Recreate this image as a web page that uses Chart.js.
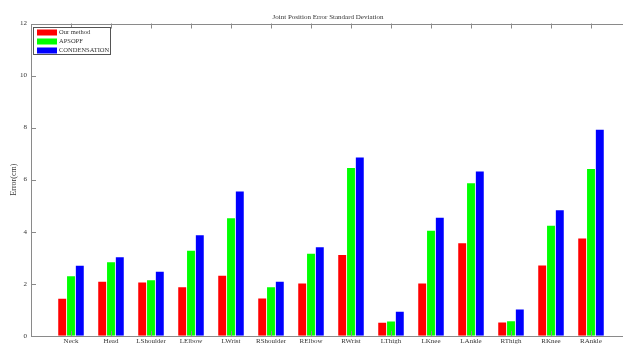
<!DOCTYPE html>
<html>
<head>
<meta charset="utf-8">
<script src="https://cdn.jsdelivr.net/npm/chart.js@4"></script>
<style>
  html, body { margin: 0; padding: 0; background: #fff; overflow: hidden; }
  #wrap { width: 632px; height: 344px; }
</style>
</head>
<body>
<div id="wrap"><canvas id="myChart" width="632" height="344"></canvas></div>
<script>
// Joint names along the x axis
var joints = ["Neck", "Head", "LShoulder", "LElbow", "LWrist", "RShoulder", "RElbow",
              "RWrist", "LThigh", "LKnee", "LAnkle", "RThigh", "RKnee", "RAnkle"];
var ourMethod    = [1.42, 2.08, 2.05, 1.87, 2.31, 1.43, 2.01, 3.10, 0.50, 2.01, 3.56, 0.51, 2.70, 3.74];
var apsopf       = [2.29, 2.83, 2.13, 3.27, 4.52, 1.87, 3.15, 6.45, 0.55, 4.04, 5.86, 0.56, 4.23, 6.41];
var condensation = [2.69, 3.02, 2.46, 3.86, 5.54, 2.08, 3.40, 6.85, 0.92, 4.54, 6.31, 1.01, 4.82, 7.92];
var yTicks = [0, 2, 4, 6, 8, 10, 12];
var chartTitle = 'Joint Position Error Standard Deviation';

var axisColor = '#8a8a8a';
var textColor = '#333333';
var serif = "'Liberation Serif', 'DejaVu Serif', serif";

// empty slot at each end so the joints sit at 1..14 of a 0..15 axis
function pad(arr, fill) { return [fill].concat(arr, [fill]); }

// draws the title, the box, the inward ticks and the boxed legend
var frame = {
    id: 'frame',
    afterDraw: function (chart) {
        var ctx = chart.ctx, a = chart.chartArea;
        var x = chart.scales.x, y = chart.scales.y;
        ctx.save();

        ctx.fillStyle = textColor;
        ctx.font = "7px " + serif;
        ctx.textAlign = 'center';
        ctx.textBaseline = 'middle';
        ctx.fillText(chartTitle, (a.left + a.right) / 2 - 3, a.top - 6.5);

        ctx.strokeStyle = axisColor;
        ctx.lineWidth = 1;
        ctx.strokeRect(Math.round(a.left) + 0.5, Math.round(a.top) + 0.5,
                       a.right - a.left, Math.round(a.bottom - a.top));
        ctx.beginPath();
        x.ticks.forEach(function (t, i) {
            if (!t.label) return;
            var px = Math.round(x.getPixelForTick(i)) + 0.5;
            ctx.moveTo(px, a.top); ctx.lineTo(px, a.top + 5);
            ctx.moveTo(px, a.bottom); ctx.lineTo(px, a.bottom - 5);
        });
        y.ticks.forEach(function (t, i) {
            var py = Math.round(y.getPixelForTick(i)) + 0.5;
            ctx.moveTo(a.left, py); ctx.lineTo(a.left + 5, py);
        });
        ctx.stroke();

        // legend
        var lx = Math.round(a.left) + 2, ly = Math.round(a.top) + 3;
        ctx.fillStyle = '#fff';
        ctx.fillRect(lx, ly, 77, 27);
        ctx.strokeStyle = '#555';
        ctx.strokeRect(lx + 0.5, ly + 0.5, 77, 27);
        ctx.font = "6.5px " + serif;
        ctx.textAlign = 'left';
        chart.data.datasets.forEach(function (ds, i) {
            var cy = ly + 5.5 + i * 9;
            ctx.fillStyle = ds.backgroundColor;
            ctx.fillRect(lx + 4, cy - 3, 20, 6);
            ctx.fillStyle = textColor;
            ctx.fillText(ds.label, lx + 26, cy);
        });
        ctx.restore();
    }
};

var ctx = document.getElementById("myChart").getContext('2d');
var myChart = new Chart(ctx, {
    type: 'bar',
    data: {
        labels: pad(joints, ''),
        datasets: [
            { label: 'Our method', data: pad(ourMethod, null), backgroundColor: '#ff0000' },
            { label: 'APSOPF', data: pad(apsopf, null), backgroundColor: '#00ff00' },
            { label: 'CONDENSATION', data: pad(condensation, null), backgroundColor: '#0000ff' }
        ]
    },
    options: {
        responsive: false,
        animation: false,
        layout: { padding: { left: 0, right: 1, top: 23.5, bottom: 0 } },
        datasets: { bar: { categoryPercentage: 0.66, barPercentage: 0.9 } },
        plugins: {
            legend: { display: false },
            tooltip: { enabled: false },
            title: { display: false }
        },
        scales: {
            x: {
                offset: false,
                grid: { display: false, drawTicks: false },
                border: { display: false },
                ticks: { color: textColor, font: { family: serif, size: 7 }, padding: 1, maxRotation: 0, autoSkip: false },
                afterFit: function (s) { s.height = 7.7; }
            },
            y: {
                min: 0, max: 12,
                afterBuildTicks: function (s) { s.ticks = yTicks.map(function (v) { return { value: v }; }); },
                grid: { display: false, drawTicks: false },
                border: { display: false },
                ticks: { color: textColor, font: { family: serif, size: 7 }, padding: 4 },
                title: { display: true, text: 'Error(cm)', color: textColor,
                         font: { family: serif, size: 8 }, padding: { top: 9, bottom: 0 } },
                afterFit: function (s) { s.width = 31; }
            }
        }
    },
    plugins: [frame]
});
</script>
</body>
</html>
